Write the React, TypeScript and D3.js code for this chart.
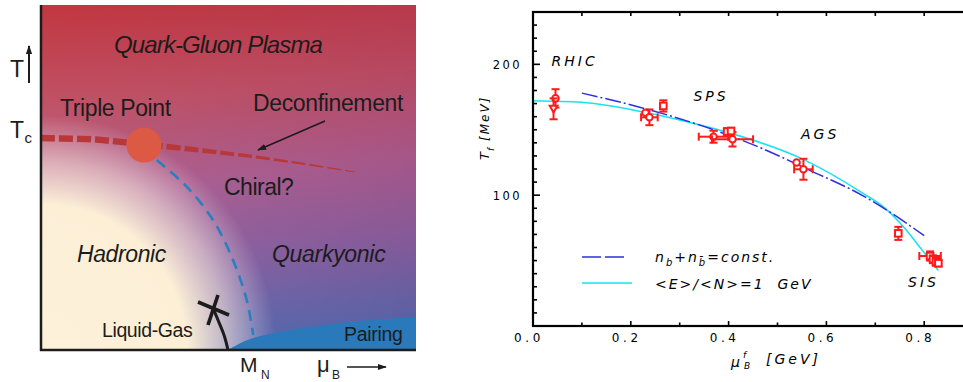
import React from "react";
import * as d3 from "d3";

// ---------- Phase diagram (schematic units: muB 0..1, T 0..1) ----------
const deconfinementLine: [number, number][] = [
  [0, 0.6145], [0.14, 0.611], [0.2747, 0.597], [0.42, 0.58],
  [0.557, 0.562], [0.7, 0.54], [0.837, 0.516],
];
const deconfinementWidth = [6.5, 6.5, 6.2, 5, 3.4, 2, 0.8];
const triplePoint: [number, number] = [0.2747, 0.594];
const chiralLine: [number, number][] = [
  [0.3085, 0.5507], [0.3885, 0.4733], [0.4587, 0.3768],
  [0.512, 0.261], [0.5485, 0.145], [0.566, 0.0435],
];
const liquidGasLine: [number, number][] = [
  [0.4987, 0], [0.488, 0.0435], [0.472, 0.087], [0.4587, 0.1217],
];
const criticalCross: [number, number][][] = [
  [[0.4187, 0.1391], [0.5013, 0.1014]],
  [[0.472, 0.1594], [0.4453, 0.0725]],
];
const pairingBoundary: [number, number][] = [
  [0.4987, 0], [0.544, 0.026], [0.6107, 0.0464], [0.7173, 0.0667],
  [0.8507, 0.0841], [1.0, 0.0957],
];

// ---------- Chemical freeze-out ----------
const muTicks = [0, 0.2, 0.4, 0.6, 0.8];
const tTicks = [100, 200];

// n_b + n_bbar = const.
const constDensityMu = [0.1, 0.2256, 0.369, 0.457, 0.566, 0.675, 0.73, 0.8];
const constDensityT = [178, 166.5, 150, 137.5, 119, 99.5, 87, 69];

// <E>/<N> = 1 GeV
const energyPerParticleMu = [0, 0.1, 0.2256, 0.321, 0.398, 0.546, 0.675, 0.716, 0.757, 0.798, 0.829];
const energyPerParticleT = [172.2, 171, 163.5, 155.5, 148, 128.5, 101.4, 91.2, 76, 57, 42.5];

// freeze-out points: muB [GeV], T [MeV], errors, marker
const pointMu = [0.046, 0.042, 0.23, 0.238, 0.2665, 0.369, 0.408, 0.397, 0.405, 0.539, 0.553, 0.747, 0.812, 0.818, 0.824, 0.829];
const pointT = [174, 166, 163, 159.5, 168.2, 144.7, 142.7, 148.6, 149, 125, 119.8, 70.8, 53.5, 51, 49, 48];
const pointErrT = [7, 8, 0, 6, 4.3, 4.6, 5.5, 2.5, 2.5, 0, 8, 5, 3.5, 3, 3, 2.5];
const pointErrMu = [0, 0, 0, 0.017, 0, 0.03, 0.042, 0, 0, 0, 0.019, 0, 0.022, 0, 0, 0];
const pointMarker = ["circle", "triangle", "circle", "circle", "square", "circle", "circle", "square", "square", "circle", "circle", "square", "square", "square", "square", "square"];

const regionNames = ["RHIC", "SPS", "AGS", "SIS"];
const regionMu = [0.038, 0.328, 0.548, 0.767];
const regionT = [199, 172, 143, 30];

const INK = "#1c1c1c";
const RED = "#ff1a1a";

export default function App() {
  // left panel scales
  const xL = d3.scaleLinear().domain([0, 1]).range([41, 416]);
  const yL = d3.scaleLinear().domain([0, 1]).range([350, 5]);
  const smooth = d3.line<[number, number]>().x((d) => xL(d[0])).y((d) => yL(d[1])).curve(d3.curveCatmullRom);
  const pairingArea = d3
    .area<[number, number]>()
    .x((d) => xL(d[0]))
    .y0(yL(0))
    .y1((d) => yL(d[1]))
    .curve(d3.curveMonotoneX);

  const upper = deconfinementLine.map((d, i) => [xL(d[0]), yL(d[1]) - deconfinementWidth[i] / 2]);
  const lower = deconfinementLine.map((d, i) => [xL(d[0]), yL(d[1]) + deconfinementWidth[i] / 2]).reverse();
  const taper = [...upper, ...lower].map((p) => p.join(",")).join(" ");

  // right panel scales
  const x = d3.scaleLinear().domain([0, 0.9]).range([533, 973.1]);
  const y = d3.scaleLinear().domain([0, 240]).range([326, 12]);
  const curve = (mu: number[], t: number[]) =>
    d3
      .line<number>()
      .x((_, i) => x(mu[i]))
      .y((_, i) => y(t[i]))
      .curve(d3.curveMonotoneX)(mu) as string;

  const minorT = d3.range(10, 240, 10);
  const muSteps = d3.range(1, 9).map((k) => k / 10);

  const monoFont = "'DejaVu Sans', sans-serif";
  const sansFont = "'Liberation Sans', Arial, sans-serif";

  const panel = { x: xL(0), y: yL(1), w: xL(1) - xL(0), h: yL(0) - yL(1) };

  return (
    <svg width={963} height={382} style={{ position: "absolute", left: 0, top: 0, background: "#fff" }}>
      <defs>
        <linearGradient id="qcdBg" x1="0" y1="0" x2="0.12" y2="1">
          <stop offset="0" stopColor="#c2363f" />
          <stop offset="0.3" stopColor="#c05468" />
          <stop offset="0.55" stopColor="#ad6496" />
          <stop offset="0.8" stopColor="#8468aa" />
          <stop offset="1" stopColor="#5870b6" />
        </linearGradient>
        <linearGradient id="qcdShade" x1="0" y1="0" x2="1" y2="0">
          <stop offset="0" stopColor="#7a0030" stopOpacity={0} />
          <stop offset="1" stopColor="#7a0030" stopOpacity={0.14} />
        </linearGradient>
        <radialGradient id="hadronGlow" gradientUnits="userSpaceOnUse" cx={xL(0)} cy={yL(0)} r={235}>
          <stop offset="0" stopColor="#fdf1da" stopOpacity={1} />
          <stop offset="0.62" stopColor="#fcefd6" stopOpacity={1} />
          <stop offset="0.8" stopColor="#f6e2d8" stopOpacity={0.6} />
          <stop offset="1" stopColor="#f0d8e0" stopOpacity={0} />
        </radialGradient>
        <clipPath id="taperClip">
          <polygon points={taper} />
        </clipPath>
        <marker id="arrowHead" viewBox="0 0 10 10" refX="9" refY="5" markerWidth="9" markerHeight="9" orient="auto" markerUnits="userSpaceOnUse">
          <path d="M0,1.5 L10,5 L0,8.5 Z" fill={INK} />
        </marker>
        <clipPath id="plotClip">
          <rect x={0} y={0} width={963} height={382} />
        </clipPath>
      </defs>

      {/* ---------- phase diagram ---------- */}
      <rect x={panel.x} y={panel.y} width={panel.w} height={panel.h} fill="url(#qcdBg)" />
      <rect x={panel.x} y={panel.y} width={panel.w} height={panel.h} fill="url(#qcdShade)" />
      <rect x={panel.x} y={panel.y} width={panel.w} height={panel.h} fill="url(#hadronGlow)" />
      <path d={pairingArea(pairingBoundary) as string} fill="#2a79ba" />

      <path
        d={smooth(deconfinementLine) as string}
        fill="none"
        stroke="#b8383a"
        strokeWidth={8}
        strokeDasharray="14 4"
        clipPath="url(#taperClip)"
      />
      <path d={smooth(chiralLine) as string} fill="none" stroke="#2b7fc1" strokeWidth={2.6} strokeDasharray="11 7" />
      <circle cx={xL(triplePoint[0])} cy={yL(triplePoint[1])} r={17.5} fill="#dc5944" />
      <path d={smooth(liquidGasLine) as string} fill="none" stroke={INK} strokeWidth={3} />
      {criticalCross.map((seg, i) => (
        <line key={i} x1={xL(seg[0][0])} y1={yL(seg[0][1])} x2={xL(seg[1][0])} y2={yL(seg[1][1])} stroke={INK} strokeWidth={3.6} />
      ))}

      <line x1={325} y1={121} x2={258} y2={150} stroke={INK} strokeWidth={1.6} markerEnd="url(#arrowHead)" />

      <line x1={xL(0)} y1={yL(1)} x2={xL(0)} y2={yL(0) + 1} stroke={INK} strokeWidth={2.5} />
      <line x1={xL(0) - 1} y1={yL(0)} x2={xL(1)} y2={yL(0)} stroke={INK} strokeWidth={2.5} />

      <g fontFamily={sansFont} fill={INK}>
        <text x={218} y={53} fontSize={24} fontStyle="italic" letterSpacing={-0.9} textAnchor="middle">Quark-Gluon Plasma</text>
        <text x={60} y={116} fontSize={23} letterSpacing={-0.4}>Triple Point</text>
        <text x={253} y={111} fontSize={23} letterSpacing={-0.36}>Deconfinement</text>
        <text x={224} y={195} fontSize={23} letterSpacing={-0.5}>Chiral?</text>
        <text x={77} y={262} fontSize={23} fontStyle="italic" letterSpacing={-0.4}>Hadronic</text>
        <text x={272} y={262} fontSize={23} fontStyle="italic" letterSpacing={-0.3}>Quarkyonic</text>
        <text x={102} y={337} fontSize={19.5} letterSpacing={-0.4}>Liquid-Gas</text>
        <text x={344} y={341} fontSize={19.5} letterSpacing={-0.3}>Pairing</text>

        <text x={10} y={77} fontSize={23}>T</text>
        <line x1={29} y1={83} x2={29} y2={46} stroke={INK} strokeWidth={2} markerEnd="url(#arrowHead)" />
        <text x={10} y={138} fontSize={23}>T</text>
        <text x={24.5} y={143} fontSize={15}>c</text>

        <text x={240} y={372} fontSize={21}>M</text>
        <text x={261} y={379} fontSize={12}>N</text>
        <text x={317} y={372} fontSize={22}>μ</text>
        <text x={332} y={379} fontSize={12}>B</text>
        <line x1={347} y1={367} x2={386} y2={367} stroke={INK} strokeWidth={1.6} markerEnd="url(#arrowHead)" />
      </g>

      {/* ---------- freeze-out curve ---------- */}
      <g clipPath="url(#plotClip)">
        <path d={curve(energyPerParticleMu, energyPerParticleT)} fill="none" stroke="#19e3ee" strokeWidth={1.6} />
        <path d={curve(constDensityMu, constDensityT)} fill="none" stroke="#2f2fe0" strokeWidth={1.5} strokeDasharray="16 3 2 3" />

        {pointMu.map((mu, i) => {
          const cx = x(mu);
          const cy = y(pointT[i]);
          const dT = pointErrT[i];
          const dM = pointErrMu[i];
          return (
            <g key={i} stroke={RED} strokeWidth={2} fill="#fff">
              {dT > 0 && (
                <>
                  <line x1={cx} x2={cx} y1={y(pointT[i] + dT)} y2={y(pointT[i] - dT)} />
                  <line x1={cx - 4} x2={cx + 4} y1={y(pointT[i] + dT)} y2={y(pointT[i] + dT)} />
                  <line x1={cx - 4} x2={cx + 4} y1={y(pointT[i] - dT)} y2={y(pointT[i] - dT)} />
                </>
              )}
              {dM > 0 && (
                <>
                  <line x1={x(mu - dM)} x2={x(mu + dM)} y1={cy} y2={cy} />
                  <line x1={x(mu - dM)} x2={x(mu - dM)} y1={cy - 4} y2={cy + 4} />
                  <line x1={x(mu + dM)} x2={x(mu + dM)} y1={cy - 4} y2={cy + 4} />
                </>
              )}
              {pointMarker[i] === "circle" && <circle cx={cx} cy={cy} r={3.3} />}
              {pointMarker[i] === "square" && <rect x={cx - 3.3} y={cy - 3.3} width={6.6} height={6.6} />}
              {pointMarker[i] === "triangle" && (
                <path d={`M${cx - 3.8},${cy - 3} L${cx + 3.8},${cy - 3} L${cx},${cy + 3.6} Z`} />
              )}
            </g>
          );
        })}

        {/* frame and ticks */}
        <rect x={x(0)} y={y(240)} width={x(0.9) - x(0)} height={y(0) - y(240)} fill="none" stroke="#000" strokeWidth={2.2} />
        {minorT.map((t) => (
          <line key={t} x1={x(0)} x2={x(0) + (t % 100 === 0 ? 7 : 4)} y1={y(t)} y2={y(t)} stroke="#000" strokeWidth={1.6} />
        ))}
        {muSteps.map((m) => (
          <g key={m} stroke="#000" strokeWidth={1.6}>
            <line x1={x(m)} x2={x(m)} y1={y(0)} y2={y(0) - (Math.round(m * 10) % 2 === 0 ? 5 : 3.5)} />
            <line x1={x(m)} x2={x(m)} y1={y(240)} y2={y(240) + 4} />
          </g>
        ))}
      </g>

      <g fontFamily={monoFont} fill="#000">
        {muTicks.map((m) => (
          <text key={m} x={x(m) - 4} y={342} fontSize={12} letterSpacing={3.6} textAnchor="middle">
            {m.toFixed(1)}
          </text>
        ))}
        {tTicks.map((t) => (
          <text key={t} x={522} y={y(t) + 4.5} fontSize={11.5} letterSpacing={2.4} textAnchor="end">
            {t}
          </text>
        ))}

        <text x={731} y={367} fontSize={14} fontStyle="italic" letterSpacing={2}>
          μ
        </text>
        <text x={743} y={358} fontSize={9} fontStyle="italic">f</text>
        <text x={744} y={369} fontSize={9} fontStyle="italic">B</text>
        <text x={766} y={364} fontSize={14} fontStyle="italic" letterSpacing={3}>[GeV]</text>

        <g transform="translate(489,160) rotate(-90)">
          <text x={0} y={0} fontSize={13} fontStyle="italic">T</text>
          <text x={9} y={5} fontSize={9} fontStyle="italic">f</text>
          <text x={19} y={0} fontSize={12} fontStyle="italic" letterSpacing={2}>[MeV]</text>
        </g>

        {regionNames.map((name, i) => (
          <text key={name} x={x(regionMu[i])} y={y(regionT[i])} fontSize={14} fontStyle="italic" letterSpacing={3}>
            {name}
          </text>
        ))}

        {/* legend */}
        <line x1={582} x2={627} y1={257} y2={257} stroke="#2f2fe0" strokeWidth={1.5} strokeDasharray="19 4" />
        <text x={655} y={262} fontSize={14} fontStyle="italic" letterSpacing={2}>
          n<tspan fontSize={10} dy={4}>b</tspan>
          <tspan dy={-4}>+n</tspan>
          <tspan fontSize={10} dy={4}>b̄</tspan>
          <tspan dy={-4}>=const.</tspan>
        </text>
        <line x1={582} x2={632} y1={283} y2={283} stroke="#19e3ee" strokeWidth={1.6} />
        <text x={655} y={289} fontSize={14} fontStyle="italic" letterSpacing={2} style={{ whiteSpace: "pre" }}>
          {"<E>/<N>=1  GeV"}
        </text>
      </g>
    </svg>
  );
}
